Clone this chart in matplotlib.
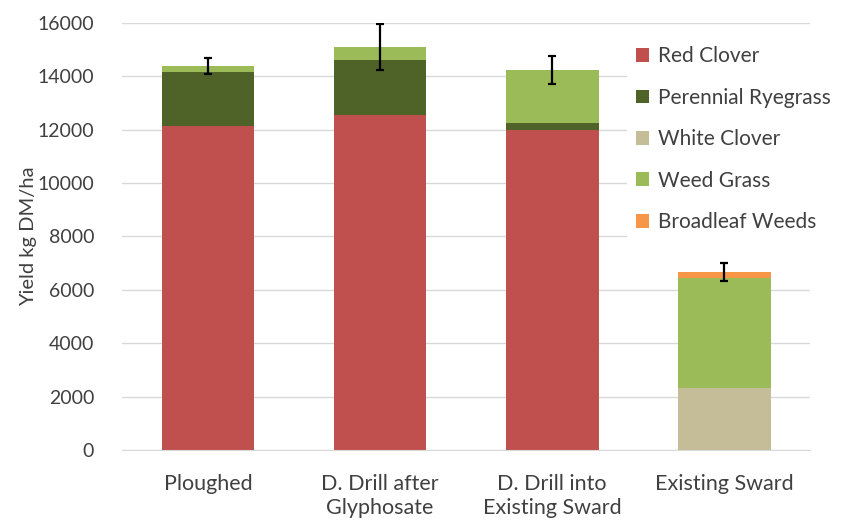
import matplotlib.pyplot as plt
import numpy as np

plt.rcParams['font.family'] = ['Lato', 'DejaVu Sans']

categories = ['Ploughed', 'D. Drill after\nGlyphosate', 'D. Drill into\nExisting Sward', 'Existing Sward']
red_clover = [12140, 12550, 11990, 0]
ryegrass = [2020, 2060, 260, 0]
white_clover = [0, 0, 0, 2320]
weed_grass = [230, 490, 1990, 4120]
broadleaf = [0, 0, 0, 230]
err = [300, 850, 520, 320]

series = [
    ('Red Clover', red_clover, '#C0504D'),
    ('Perennial Ryegrass', ryegrass, '#4F6228'),
    ('White Clover', white_clover, '#C4BD97'),
    ('Weed Grass', weed_grass, '#9BBB59'),
    ('Broadleaf Weeds', broadleaf, '#F79646'),
]

fig = plt.figure(figsize=(8.43, 5.21), dpi=100)
ax = fig.add_axes([0.1447, 0.1363, 0.8163, 0.8196])

x = np.arange(len(categories))
bottom = np.zeros(len(categories))
for name, vals, col in series:
    ax.bar(x, vals, 0.54, bottom=bottom, color=col, label=name, zorder=2)
    bottom += np.array(vals)

ax.errorbar(x, bottom, yerr=err, fmt='none', ecolor='black', elinewidth=1.6,
            capsize=3, capthick=1.6, zorder=3)

ax.set_xlim(-0.5, 3.5)
ax.set_ylim(0, 16000)
ax.set_yticks(range(0, 16001, 2000))
ax.set_xticks(x)
ax.set_xticklabels(categories, fontsize=15.5, color='#404040', linespacing=1.3)
ax.tick_params(axis='y', labelsize=14, labelcolor='#404040', length=0, pad=20)
ax.tick_params(axis='x', length=0, pad=17)
ax.yaxis.grid(True, color='#D9D9D9', linewidth=1, zorder=0)
ax.set_axisbelow(True)
for s in ['top', 'right', 'left']:
    ax.spines[s].set_visible(False)
ax.spines['bottom'].set_color('#D9D9D9')
ax.set_ylabel('Yield kg DM/ha', fontsize=14.5, color='#404040', labelpad=0.5)

leg = fig.legend(loc='upper left', bbox_to_anchor=(0.744, 0.927), frameon=True,
                 fontsize=15, handlelength=0.65, handleheight=0.65,
                 handletextpad=0.45, labelspacing=1.03, borderaxespad=0,
                 borderpad=0.4)
leg.get_frame().set_edgecolor('none')
leg.get_frame().set_facecolor('white')
leg.get_frame().set_alpha(1)
for t in leg.get_texts():
    t.set_color('#404040')

fig.savefig('out.png', dpi=100)
